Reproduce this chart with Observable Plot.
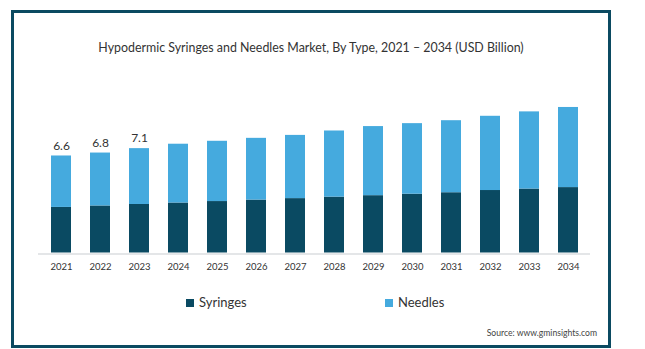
<!DOCTYPE html>
<html>
<head>
<meta charset="utf-8">
<script src="https://cdn.jsdelivr.net/npm/d3@7"></script>
<script src="https://cdn.jsdelivr.net/npm/@observablehq/plot@0.6"></script>
<style>
  html, body { margin: 0; padding: 0; background: #fff; }
  #wrap { position: relative; width: 645px; height: 349px; overflow: hidden; font-family: Lato, "Noto Sans", sans-serif; color: #333; }
  #frame { position: absolute; left: 11px; top: 10px; width: 600px; height: 338px; box-sizing: border-box; border: 3px solid #0b4a61; }
  #title { position: absolute; left: 11px; width: 600px; top: 40px; text-align: center; font-size: 12.4px; color: #333; white-space: nowrap; }
  #chart { position: absolute; left: 0; top: 0; }
  .leg { position: absolute; top: 294px; font-size: 13px; color: #333; line-height: 16px; white-space: nowrap; }
  .leg i { display: inline-block; width: 8px; height: 8px; margin-right: 5px; vertical-align: 0px; }
  #source { position: absolute; right: 48px; top: 328px; font-size: 8.6px; color: #444; white-space: nowrap; }
</style>
</head>
<body>
<div id="wrap">
  <div id="frame"></div>
  <div id="title">Hypodermic Syringes and Needles Market, By Type, 2021 – 2034 (USD Billion)</div>
  <div id="chart"></div>
  <div class="leg" style="left:186px"><i style="background:#0a4a62"></i>Syringes</div>
  <div class="leg" style="left:385px"><i style="background:#45aade"></i>Needles</div>
  <div id="source">Source: www.gminsights.com</div>
</div>
<script>
const years = ["2021","2022","2023","2024","2025","2026","2027","2028","2029","2030","2031","2032","2033","2034"];
const syringes = [3.1,3.2,3.3,3.4,3.5,3.6,3.7,3.8,3.9,4.0,4.1,4.25,4.35,4.45];
const needles  = [3.5,3.6,3.8,4.0,4.1,4.2,4.3,4.5,4.7,4.8,4.9,5.05,5.25,5.45];
const labelYears = ["2021","2022","2023"];
const labelValues = [6.6,6.8,7.1];
const seriesNames = ["Syringes","Needles"];
const seriesColors = ["#0a4a62","#45aade"];

const data = [
  ...years.map((y,i) => ({year: y, type: "Syringes", value: syringes[i]})),
  ...years.map((y,i) => ({year: y, type: "Needles", value: needles[i]}))
];
const labels = labelYears.map((y,i) => ({year: y, value: labelValues[i]}));

const chart = Plot.plot({
  width: 645,
  height: 280,
  marginLeft: 38,
  marginRight: 55,
  marginTop: 105.5,
  marginBottom: 27.5,
  style: {fontFamily: "Lato, 'Noto Sans', sans-serif", fontSize: "9.5px", color: "#333", background: "transparent"},
  x: {domain: years, paddingInner: 0.5, paddingOuter: 0.23, label: null, tickSize: 0, tickPadding: 10},
  y: {domain: [0, 10], axis: null},
  color: {domain: seriesNames, range: seriesColors},
  marks: [
    Plot.barY(data, {x: "year", y: "value", fill: "type"}),
    Plot.ruleY([0], {stroke: "#e4e6e8", strokeWidth: 2, dy: 1}),
    Plot.text(labels, {x: "year", y: "value", text: d => d.value.toFixed(1), dy: -10, fontSize: 12, fill: "#333"})
  ]
});
document.getElementById("chart").appendChild(chart);
</script>
</body>
</html>
